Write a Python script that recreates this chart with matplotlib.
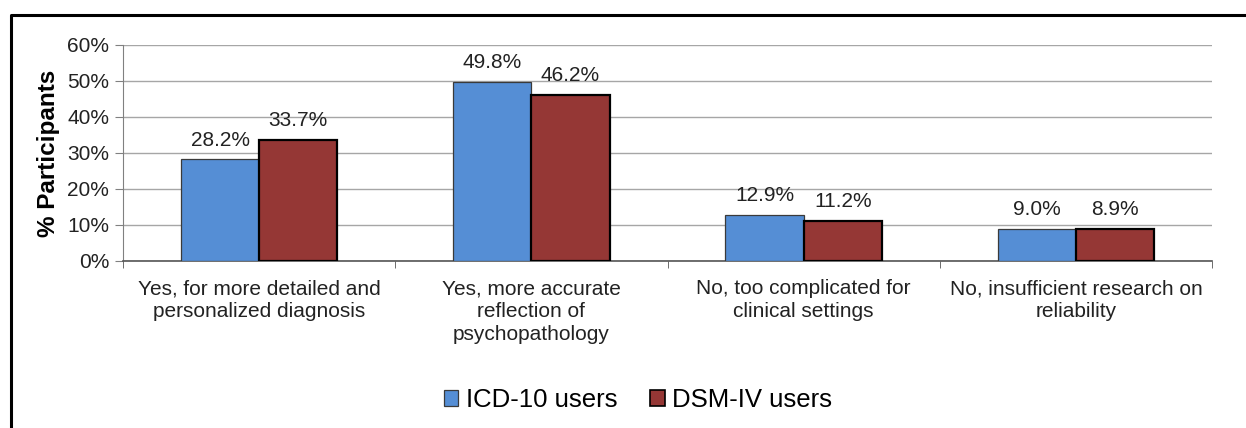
import matplotlib
matplotlib.use("Agg")
import matplotlib.pyplot as plt
from matplotlib.lines import Line2D
from matplotlib.patches import Patch

plt.rcParams['font.family'] = ['Liberation Sans', 'DejaVu Sans']

# chart data
categories = [
    "Yes, for more detailed and\npersonalized diagnosis",
    "Yes, more accurate\nreflection of\npsychopathology",
    "No, too complicated for\nclinical settings",
    "No, insufficient research on\nreliability",
]
icd10 = [28.2, 49.8, 12.9, 9.0]
dsm4 = [33.7, 46.2, 11.2, 8.9]
series_names = ["ICD-10 users", "DSM-IV users"]
yticks = [0, 10, 20, 30, 40, 50, 60]

blue = "#558ED5"
red = "#953735"

fig = plt.figure(figsize=(12.46, 4.28), dpi=100)
ax = fig.add_axes([123 / 1246, 1 - 261 / 428, (1212 - 123) / 1246, (261 - 45) / 428])

x = list(range(len(categories)))
w = 0.287
b1 = ax.bar([i - w / 2 for i in x], icd10, w, color=blue, edgecolor="#3a3a3a",
            linewidth=0.9, zorder=3)
b2 = ax.bar([i + w / 2 for i in x], dsm4, w, color=red, edgecolor="black",
            linewidth=1.6, zorder=3)

for bars, vals in ((b1, icd10), (b2, dsm4)):
    for bar, v in zip(bars, vals):
        ax.annotate(f"{v:.1f}%", (bar.get_x() + bar.get_width() / 2, v),
                    xytext=(0, 7), textcoords="offset points",
                    ha="center", va="bottom", fontsize=15, color="#222222")

ax.set_xlim(-0.5, len(categories) - 0.5)
ax.set_ylim(0, 60)
ax.set_yticks(yticks)
ax.set_yticklabels([f"{t}%" for t in yticks], fontsize=15, color="#222222")
ax.set_xticks(x)
ax.set_xticklabels(categories, fontsize=15, color="#222222", linespacing=1.27)
ax.set_xticks([i - 0.5 for i in range(len(categories) + 1)], minor=True)
ax.tick_params(axis="x", which="major", length=0, pad=13)
ax.tick_params(axis="x", which="minor", length=5, color="#555555", direction="out")
ax.tick_params(axis="y", length=6, color="#808080", pad=4)

ax.grid(axis="y", color="#a6a6a6", linewidth=1.0, zorder=0)
ax.set_axisbelow(True)
for s in ("top", "right"):
    ax.spines[s].set_visible(False)
ax.spines["left"].set_color("#808080")
ax.spines["bottom"].set_color("#555555")
ax.spines["bottom"].set_linewidth(1.2)

ax.set_ylabel("% Participants", fontsize=17.5, fontweight="bold", labelpad=5)

handles = [Patch(facecolor=blue, edgecolor="#3a3a3a", linewidth=0.9),
           Patch(facecolor=red, edgecolor="black", linewidth=1.2)]
fig.legend(handles, series_names, loc="center", bbox_to_anchor=(638 / 1246, 1 - 400 / 428),
           ncol=2, frameon=False, fontsize=18.5, handlelength=0.55, handleheight=0.55,
           handletextpad=0.3, columnspacing=1.3)

# outer frame (only top and left edges visible in the crop)
fig.add_artist(Line2D([11 / 1246, 11 / 1246, 1.0], [0.0, 1 - 15 / 428, 1 - 15 / 428],
                      transform=fig.transFigure, color="black", linewidth=2.2))

fig.savefig("out.png", dpi=100)
